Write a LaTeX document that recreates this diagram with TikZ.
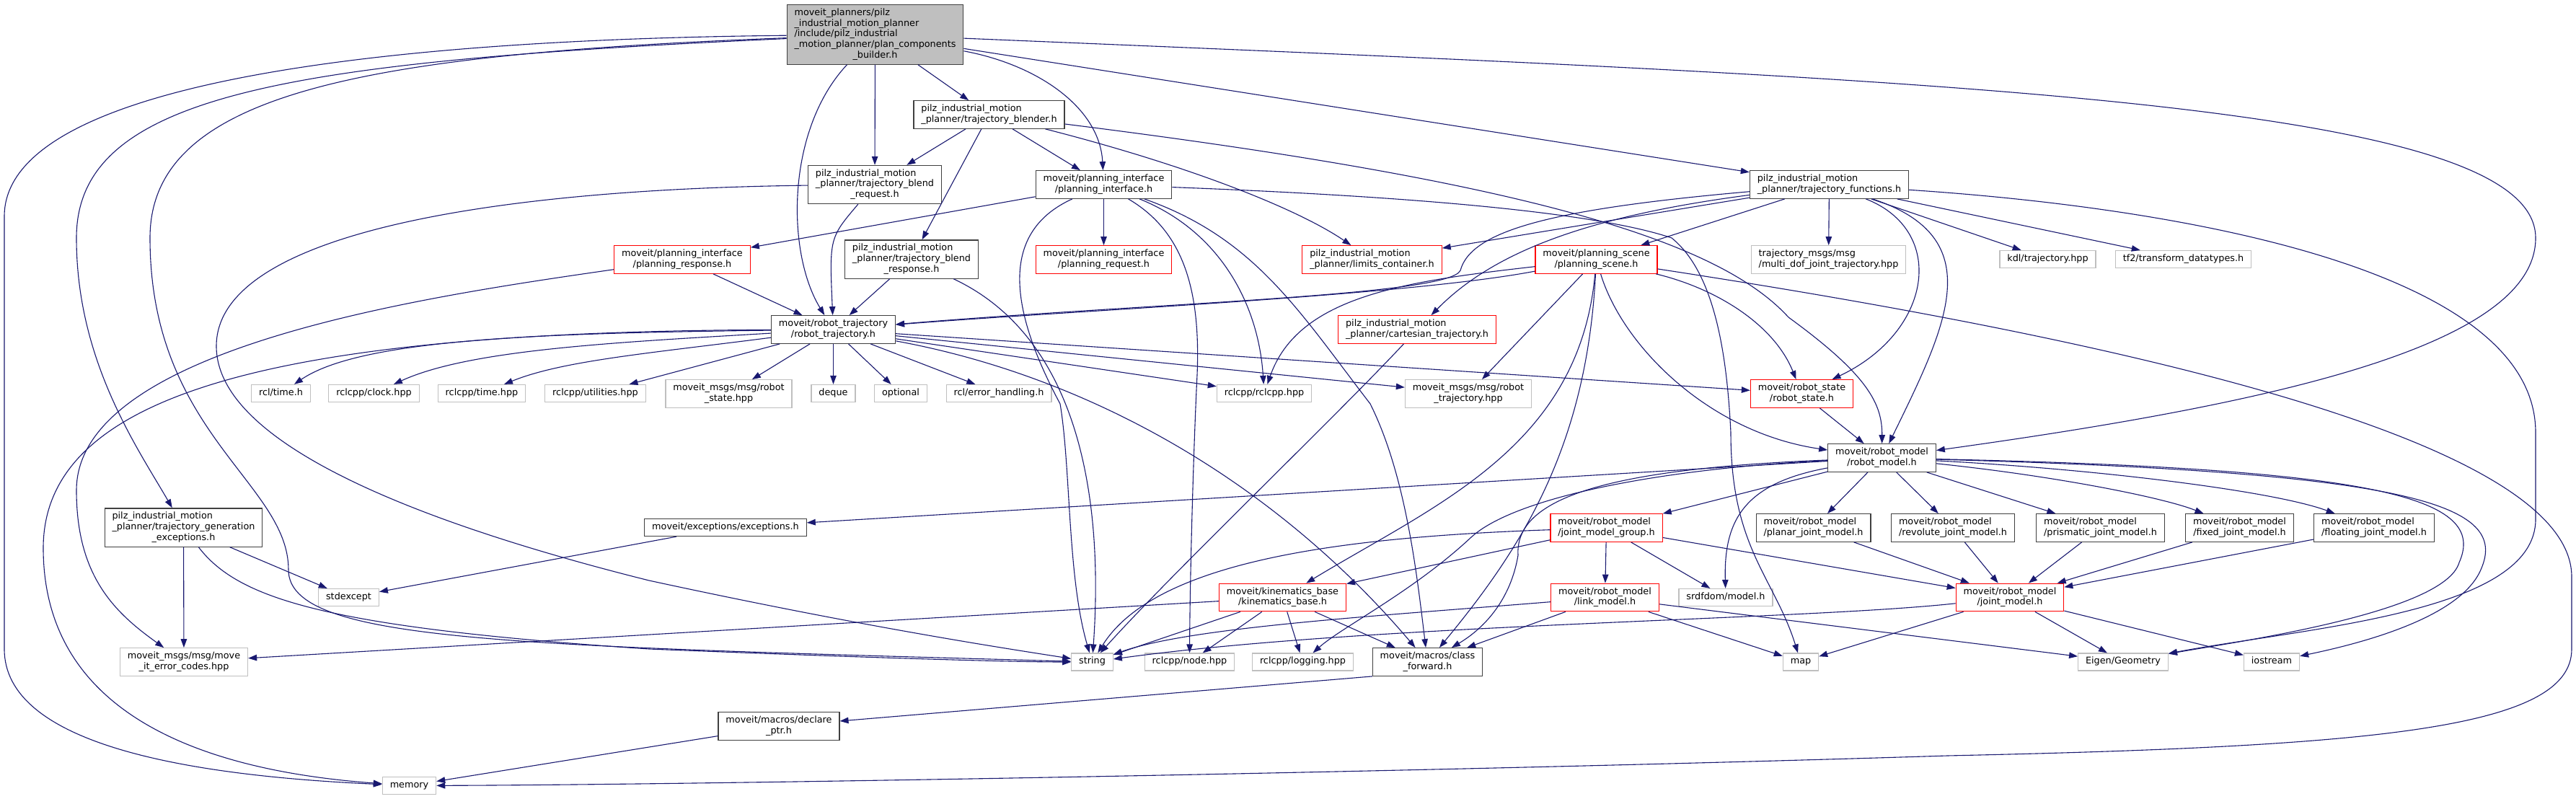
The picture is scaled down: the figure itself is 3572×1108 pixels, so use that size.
\documentclass[tikz,border=0pt]{standalone}
\usepackage{fontspec}
\setmainfont{DejaVu Sans}
\usepackage{tikz}
\usetikzlibrary{arrows.meta}
\definecolor{Edge}{HTML}{191970}
\definecolor{Doc}{HTML}{404040}
\definecolor{Trunc}{HTML}{FF0000}
\definecolor{Ext}{HTML}{BFBFBF}
\definecolor{Root}{HTML}{BFBFBF}
\newcommand{\dlab}[2]{\begin{tabular}{@{}l@{}}#1\\\multicolumn{1}{@{}c@{}}{#2}\end{tabular}}

\begin{document}
\begin{tikzpicture}[
  x=1pt, y=-1pt,
  font=\fontsize{12.8}{14.6}\selectfont,
  box/.style={draw=Doc, line width=1.2pt, fill=white, inner xsep=10.4pt, inner ysep=4.7pt, execute at begin node=\strut},
  root/.style={box, fill=Root},
  trunc/.style={box, draw=Trunc},
  sys/.style={box, draw=Ext},
  arrow/.style={-{Triangle[length=12pt, width=8.5pt]}, draw=Edge, line width=1.1pt}
]
\path[fill=white, use as bounding box] (0,0) rectangle (3572,1108);

\node[root] (main) at (1213.5,48) {\dlab{moveit\_planners/pilz\\\_industrial\_motion\_planner\\/include/pilz\_industrial\\\_motion\_planner/plan\_components}{\_builder.h}};
\node[box] (blender) at (1371.5,159) {\dlab{pilz\_industrial\_motion}{\_planner/trajectory\_blender.h}};
\node[box] (blendreq) at (1213,256) {\dlab{pilz\_industrial\_motion\\\_planner/trajectory\_blend}{\_request.h}};
\node[box] (planif) at (1530.5,256) {\dlab{moveit/planning\_interface}{/planning\_interface.h}};
\node[box] (trajfun) at (2536.5,256) {\dlab{pilz\_industrial\_motion}{\_planner/trajectory\_functions.h}};
\node[trunc] (planresp) at (946,360) {\dlab{moveit/planning\_interface}{/planning\_response.h}};
\node[box] (blendresp) at (1264,359.5) {\dlab{pilz\_industrial\_motion\\\_planner/trajectory\_blend}{\_response.h}};
\node[trunc] (planreq) at (1530.5,360) {\dlab{moveit/planning\_interface}{/planning\_request.h}};
\node[trunc] (limits) at (1902.5,360) {\dlab{pilz\_industrial\_motion}{\_planner/limits\_container.h}};
\node[trunc] (pscene) at (2213.5,360) {\dlab{moveit/planning\_scene}{/planning\_scene.h}};
\node[sys] (multidof) at (2535.5,360) {\dlab{trajectory\_msgs/msg}{/multi\_dof\_joint\_trajectory.hpp}};
\node[sys] (kdl) at (2839.5,359.5) {kdl/trajectory.hpp};
\node[sys] (tf2) at (3027.5,359.5) {tf2/transform\_datatypes.h};
\node[box] (robtraj) at (1155.5,457) {\dlab{moveit/robot\_trajectory}{/robot\_trajectory.h}};
\node[trunc] (cartesian) at (1965,457) {\dlab{pilz\_industrial\_motion}{\_planner/cartesian\_trajectory.h}};
\node[sys] (rcltime) at (389.5,545.5) {rcl/time.h};
\node[sys] (rclclock) at (518.5,545.5) {rclcpp/clock.hpp};
\node[sys] (rcltimehpp) at (668,545.5) {rclcpp/time.hpp};
\node[sys] (rclutil) at (825.5,545.5) {rclcpp/utilities.hpp};
\node[sys] (msgstate) at (1010.5,546) {\dlab{moveit\_msgs/msg/robot}{\_state.hpp}};
\node[sys] (deque) at (1155.5,545.5) {deque};
\node[sys] (optional) at (1249,545.5) {optional};
\node[sys] (rclerr) at (1385,545.5) {rcl/error\_handling.h};
\node[sys] (rclcpp) at (1753,545.5) {rclcpp/rclcpp.hpp};
\node[sys] (msgtraj) at (2036,546) {\dlab{moveit\_msgs/msg/robot}{\_trajectory.hpp}};
\node[trunc] (robstate) at (2498.5,546) {\dlab{moveit/robot\_state}{/robot\_state.h}};
\node[box] (robmodel) at (2609.5,635) {\dlab{moveit/robot\_model}{/robot\_model.h}};
\node[box] (trajgenexc) at (254.5,731.5) {\dlab{pilz\_industrial\_motion\\\_planner/trajectory\_generation}{\_exceptions.h}};
\node[box] (exceptions) at (1006,731.5) {moveit/exceptions/exceptions.h};
\node[trunc] (jmg) at (2227.5,732) {\dlab{moveit/robot\_model}{/joint\_model\_group.h}};
\node[box] (planar) at (2514.5,732) {\dlab{moveit/robot\_model}{/planar\_joint\_model.h}};
\node[box] (revolute) at (2708,732) {\dlab{moveit/robot\_model}{/revolute\_joint\_model.h}};
\node[box] (prismatic) at (2912.5,732) {\dlab{moveit/robot\_model}{/prismatic\_joint\_model.h}};
\node[box] (fixed) at (3105.5,732) {\dlab{moveit/robot\_model}{/fixed\_joint\_model.h}};
\node[box] (floating) at (3292,732) {\dlab{moveit/robot\_model}{/floating\_joint\_model.h}};
\node[sys] (stdexcept) at (483.5,828.5) {stdexcept};
\node[trunc] (kinbase) at (1778.5,828.5) {\dlab{moveit/kinematics\_base}{/kinematics\_base.h}};
\node[trunc] (link) at (2225.5,828.5) {\dlab{moveit/robot\_model}{/link\_model.h}};
\node[sys] (srdf) at (2393,828.5) {srdfdom/model.h};
\node[trunc] (jointmodel) at (2787,828.5) {\dlab{moveit/robot\_model}{/joint\_model.h}};
\node[sys] (errcodes) at (255,918) {\dlab{moveit\_msgs/msg/move}{\_it\_error\_codes.hpp}};
\node[sys] (string) at (1514.5,918) {string};
\node[sys] (nodehpp) at (1649.5,918) {rclcpp/node.hpp};
\node[sys] (logging) at (1806.5,918) {rclcpp/logging.hpp};
\node[box] (classfwd) at (1979.5,918) {\dlab{moveit/macros/class}{\_forward.h}};
\node[sys] (map) at (2497,918) {map};
\node[sys] (eigen) at (2944,918) {Eigen/Geometry};
\node[sys] (iostream) at (3150,918) {iostream};
\node[box] (declptr) at (1080,1007) {\dlab{moveit/macros/declare}{\_ptr.h}};
\node[sys] (memory) at (567.5,1089.5) {memory};

\draw[arrow] (main) -- (blender);
\draw[arrow] (main) -- (blendreq);
\draw[arrow] (main) .. controls (1090,180) and (1090,350) .. (robtraj);
\draw[arrow] (main) .. controls (1440,90) and (1525,150) .. (planif);
\draw[arrow] (main) -- (trajfun);
\draw[arrow] (main) .. controls (2700,110) and (3516,140) .. (3516,330) .. controls (3516,480) and (3150,560) .. (robmodel);
\draw[arrow] (main) .. controls (400,85) and (106,130) .. (106,330) .. controls (106,500) and (190,620) .. (trajgenexc);
\draw[arrow] (main) .. controls (500,75) and (208,130) .. (208,330) .. controls (208,600) and (400,670) .. (400,790) .. controls (400,890) and (700,895) .. (string);
\draw[arrow] (main) .. controls (500,55) and (6,120) .. (6,300) -- (6,900) .. controls (6,1030) and (250,1075) .. (memory);

\draw[arrow] (blender) -- (blendreq);
\draw[arrow] (blender) -- (blendresp);
\draw[arrow] (blender) -- (planif);
\draw[arrow] (blender) .. controls (1650,230) and (1800,290) .. (limits);
\draw[arrow] (blender) .. controls (2100,250) and (2380,330) .. (2480,440) .. controls (2590,520) and (2610,560) .. (robmodel);

\draw[arrow] (blendreq) .. controls (1150,330) .. (robtraj);
\draw[arrow] (blendreq) .. controls (700,262) and (300,320) .. (300,480) .. controls (300,620) and (600,730) .. (900,805) .. controls (1200,870) and (1400,900) .. (string);
\draw[arrow] (blendresp) -- (robtraj);
\draw[arrow] (blendresp) .. controls (1500,470) and (1530,700) .. (string);
\draw[arrow] (planresp) -- (robtraj);
\draw[arrow] (planresp) .. controls (600,410) and (106,480) .. (106,680) .. controls (106,800) and (160,850) .. (errcodes);

\draw[arrow] (planif) -- (planresp);
\draw[arrow] (planif) -- (planreq);
\draw[arrow] (planif) .. controls (1390,320) and (1395,420) .. (1470,560) .. controls (1485,650) and (1480,800) .. (string);
\draw[arrow] (planif) .. controls (1640,320) and (1665,400) .. (1660,520) .. controls (1655,620) and (1650,800) .. (nodehpp);
\draw[arrow] (planif) .. controls (1690,320) and (1745,420) .. (rclcpp);
\draw[arrow] (planif) .. controls (1740,330) and (1800,430) .. (1900,560) .. controls (1950,660) and (1965,800) .. (classfwd);
\draw[arrow] (planif) .. controls (1900,270) and (2200,290) .. (2318,330) .. controls (2380,380) and (2395,500) .. (2400,600) .. controls (2400,760) and (2460,800) .. (map);

\draw[arrow] (trajfun) .. controls (2150,290) and (2040,320) .. (2025,375) .. controls (2010,410) and (1600,420) .. (robtraj);
\draw[arrow] (trajfun) .. controls (2200,300) and (2070,350) .. (cartesian);
\draw[arrow] (trajfun) -- (limits);
\draw[arrow] (trajfun) -- (pscene);
\draw[arrow] (trajfun) -- (multidof);
\draw[arrow] (trajfun) .. controls (2700,320) and (2680,460) .. (robstate);
\draw[arrow] (trajfun) .. controls (2760,330) and (2700,450) .. (robmodel);
\draw[arrow] (trajfun) -- (kdl);
\draw[arrow] (trajfun) -- (tf2);
\draw[arrow] (trajfun) .. controls (3050,290) and (3516,380) .. (3516,600) -- (3516,720) .. controls (3516,850) and (3200,870) .. (eigen);

\draw[arrow] (pscene) .. controls (1950,410) and (1500,430) .. (robtraj);
\draw[arrow] (pscene) .. controls (1950,390) and (1800,410) .. (rclcpp);
\draw[arrow] (pscene) -- (msgtraj);
\draw[arrow] (pscene) .. controls (2190,620) and (1990,700) .. (kinbase);
\draw[arrow] (pscene) .. controls (2200,620) and (2110,760) .. (classfwd);
\draw[arrow] (pscene) .. controls (2250,480) and (2370,600) .. (robmodel);
\draw[arrow] (pscene) .. controls (2380,400) and (2460,450) .. (robstate);
\draw[arrow] (pscene) .. controls (3000,480) and (3566,620) .. (3566,800) -- (3566,900) .. controls (3566,1010) and (3300,1035) .. (2700,1048) .. controls (2000,1070) and (1000,1088) .. (memory);
\draw[arrow] (cartesian) .. controls (1850,580) and (1620,800) .. (string);

\draw[arrow] (robtraj) .. controls (750,462) and (500,470) .. (rcltime);
\draw[arrow] (robtraj) .. controls (850,475) and (650,485) .. (rclclock);
\draw[arrow] (robtraj) .. controls (900,490) and (780,500) .. (rcltimehpp);
\draw[arrow] (robtraj) -- (rclutil);
\draw[arrow] (robtraj) .. controls (400,460) and (60,540) .. (60,760) .. controls (60,1000) and (300,1070) .. (memory);
\draw[arrow] (robtraj) -- (msgstate);
\draw[arrow] (robtraj) -- (deque);
\draw[arrow] (robtraj) -- (optional);
\draw[arrow] (robtraj) -- (rclerr);
\draw[arrow] (robtraj) -- (rclcpp);
\draw[arrow] (robtraj) -- (msgtraj);
\draw[arrow] (robtraj) -- (robstate);
\draw[arrow] (robtraj) .. controls (1500,520) and (1760,660) .. (classfwd);
\draw[arrow] (robstate) -- (robmodel);

\draw[arrow] (exceptions) -- (stdexcept);
\draw[arrow] (trajgenexc) -- (stdexcept);
\draw[arrow] (trajgenexc) -- (errcodes);
\draw[arrow] (trajgenexc) .. controls (330,830) and (450,870) .. (900,900) .. controls (1200,912) and (1400,918) .. (string);

\draw[arrow] (robmodel) -- (exceptions);
\draw[arrow] (robmodel) -- (jmg);
\draw[arrow] (robmodel) -- (planar);
\draw[arrow] (robmodel) -- (revolute);
\draw[arrow] (robmodel) -- (prismatic);
\draw[arrow] (robmodel) .. controls (2850,660) and (3000,690) .. (fixed);
\draw[arrow] (robmodel) .. controls (2900,650) and (3150,680) .. (floating);
\draw[arrow] (robmodel) .. controls (3300,650) and (3450,690) .. (3410,780) .. controls (3390,850) and (3100,890) .. (eigen);
\draw[arrow] (robmodel) .. controls (3350,655) and (3480,700) .. (3440,790) .. controls (3410,860) and (3260,895) .. (iostream);
\draw[arrow] (robmodel) .. controls (2300,650) and (2100,690) .. (2040,745) .. controls (1960,820) and (1860,870) .. (logging);
\draw[arrow] (robmodel) .. controls (2230,650) and (2100,690) .. (2105,770) .. controls (2095,830) and (2060,870) .. (classfwd);
\draw[arrow] (robmodel) .. controls (2420,670) and (2390,720) .. (srdf);

\draw[arrow] (jmg) -- (kinbase);
\draw[arrow] (jmg) -- (link);
\draw[arrow] (jmg) -- (srdf);
\draw[arrow] (jmg) -- (jointmodel);
\draw[arrow] (jmg) .. controls (1850,745) and (1600,780) .. (string);

\draw[arrow] (kinbase) -- (string);
\draw[arrow] (kinbase) -- (nodehpp);
\draw[arrow] (kinbase) -- (logging);
\draw[arrow] (kinbase) -- (classfwd);
\draw[arrow] (kinbase) -- (errcodes);

\draw[arrow] (link) .. controls (1900,855) and (1650,870) .. (string);
\draw[arrow] (link) -- (classfwd);
\draw[arrow] (link) -- (map);
\draw[arrow] (link) -- (eigen);

\draw[arrow] (planar) -- (jointmodel);
\draw[arrow] (revolute) -- (jointmodel);
\draw[arrow] (prismatic) -- (jointmodel);
\draw[arrow] (fixed) -- (jointmodel);
\draw[arrow] (floating) -- (jointmodel);
\draw[arrow] (jointmodel) .. controls (2500,860) and (1900,865) .. (string);
\draw[arrow] (jointmodel) -- (map);
\draw[arrow] (jointmodel) -- (eigen);
\draw[arrow] (jointmodel) -- (iostream);

\draw[arrow] (classfwd.south west) -- (declptr);
\draw[arrow] (declptr) -- (memory);
\end{tikzpicture}
\end{document}
